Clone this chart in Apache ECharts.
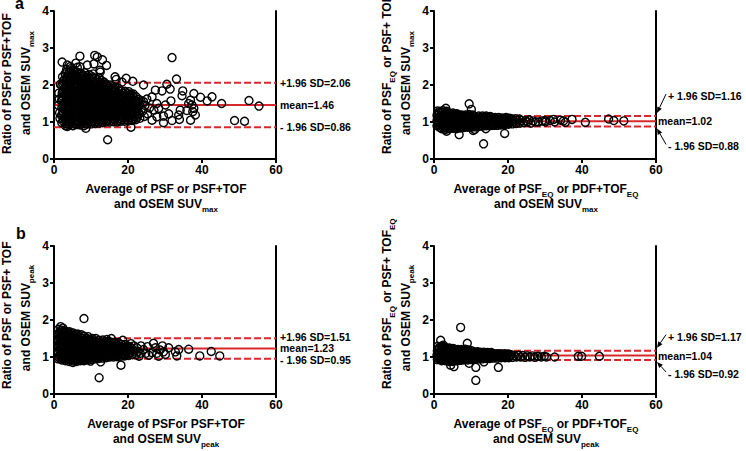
<!DOCTYPE html>
<html><head><meta charset="utf-8">
<script src="https://cdn.jsdelivr.net/npm/echarts/dist/echarts.min.js"></script>
<style>html,body{margin:0;padding:0;background:#fff}#c{width:746px;height:451px}</style>
</head><body><div id="c"></div>
<script>
// ---------------- DATA ----------------
const xTickValues = [0, 20, 40, 60];
const yTickValues = [0, 1, 2, 3, 4];

// limits of agreement: [upper, mean, lower]
const limMaxPSF  = [2.06, 1.46, 0.86];
const limMaxEQ   = [1.16, 1.02, 0.88];
const limPeakPSF = [1.51, 1.23, 0.95];
const limPeakEQ  = [1.17, 1.04, 0.92];

const labMaxPSF  = ['+1.96 SD=2.06', 'mean=1.46', '- 1.96 SD=0.86'];
const labMaxEQ   = ['+ 1.96 SD=1.16', 'mean=1.02', '- 1.96 SD=0.88'];
const labPeakPSF = ['+1.96 SD=1.51', 'mean=1.23', '- 1.96 SD=0.95'];
const labPeakEQ  = ['+ 1.96 SD=1.17', 'mean=1.04', '- 1.96 SD=0.92'];

const xTitles = [
  ['{b|Average of PSF or PSF+TOF}', '{b|and OSEM SUV}{s|max}'],
  ['{b|Average of PSF}{s|EQ}{b| or PDF+TOF}{s|EQ}', '{b|and OSEM SUV}{s|max}'],
  ['{b|Average of PSFor PSF+TOF}', '{b|and OSEM SUV}{s|peak}'],
  ['{b|Average of PSF}{s|EQ}{b| or PDF+TOF}{s|EQ}', '{b|and OSEM SUV}{s|peak}']
];
const yTitles = [
  ['{b|Ratio of PSFor PSF+TOF}', '{b|and OSEM SUV}{s|max}'],
  ['{b|Ratio of PSF}{s|EQ}{b| or PSF+ TOF}{s|EQ}', '{b|and OSEM SUV}{s|max}'],
  ['{b|Ratio of PSF or PSF+ TOF}', '{b|and OSEM SUV}{s|peak}'],
  ['{b|Ratio of PSF}{s|EQ}{b| or PSF+ TOF}{s|EQ}', '{b|and OSEM SUV}{s|peak}']
];
const panelLetters = ['a', 'b'];

// (a) SUVmax, PSF or PSF+TOF vs OSEM
const ptsMaxPSF = [
[1.2,1.45],[1.4,1.62],[1.5,1.25],[1.6,1.1],[1.3,1.78],[1.7,2.02],[2.2,2.62],[3.6,2.54],[5.9,2.59],[7.0,2.78],[8.6,0.83],[9.0,2.54],[10.8,2.57],[11.0,2.8],[11.7,2.76],[13.1,2.68],[14.2,2.53],[14.5,0.52],[19.5,2.18],[20.8,0.86],[21.3,2.1],[3.6,0.88],[12.4,2.4],[16.8,2.15],[18.4,2.08],[6.3,2.48],[4.4,2.5],[12.5,2.35],[16.5,2.22],[7.0,2.49],
[2.1,0.98],[2.6,1.08],[2.0,1.18],[2.5,1.28],[2.1,1.38],[2.6,1.48],[2.0,1.58],[2.5,1.68],[2.2,1.78],[2.6,1.88],[2.1,1.98],[2.5,2.1],[2.3,2.22],
[3.1,0.9],[3.6,1.0],[3.0,1.1],[3.5,1.2],[3.1,1.3],[3.6,1.4],[3.0,1.5],[3.5,1.6],[3.1,1.7],[3.6,1.8],[3.0,1.9],[3.5,2.0],[3.1,2.1],[3.6,2.2],[3.0,2.3],[3.4,2.42],
[4.1,0.92],[4.6,1.02],[4.0,1.12],[4.5,1.22],[4.1,1.32],[4.6,1.42],[4.0,1.52],[4.5,1.62],[4.1,1.72],[4.6,1.82],[4.0,1.92],[4.5,2.02],[4.1,2.12],[4.6,2.22],[4.0,2.32],[4.5,2.44],
[5.1,0.9],[5.6,1.0],[5.0,1.1],[5.5,1.2],[5.1,1.3],[5.6,1.4],[5.0,1.5],[5.5,1.6],[5.1,1.7],[5.6,1.8],[5.0,1.9],[5.5,2.0],[5.1,2.1],[5.6,2.2],[5.0,2.3],[5.4,2.4],
[6.1,0.93],[6.6,1.03],[6.0,1.13],[6.5,1.23],[6.1,1.33],[6.6,1.43],[6.0,1.53],[6.5,1.63],[6.1,1.73],[6.6,1.83],[6.0,1.93],[6.5,2.03],[6.1,2.13],[6.6,2.23],[6.2,2.35],
[7.1,0.92],[7.6,1.02],[7.0,1.12],[7.5,1.22],[7.1,1.32],[7.6,1.42],[7.0,1.52],[7.5,1.62],[7.1,1.72],[7.6,1.82],[7.0,1.92],[7.5,2.02],[7.1,2.12],[7.6,2.22],[7.2,2.32],
[8.1,0.9],[8.6,1.0],[8.0,1.1],[8.5,1.2],[8.1,1.3],[8.6,1.4],[8.0,1.5],[8.5,1.6],[8.1,1.7],[8.6,1.8],[8.0,1.9],[8.5,2.0],[8.1,2.1],[8.6,2.2],[8.3,2.33],
[9.1,0.95],[9.6,1.05],[9.0,1.15],[9.5,1.25],[9.1,1.35],[9.6,1.45],[9.0,1.55],[9.5,1.65],[9.1,1.75],[9.6,1.85],[9.0,1.95],[9.5,2.05],[9.1,2.15],[9.5,2.28],
[10.1,0.95],[10.6,1.05],[10.0,1.15],[10.5,1.25],[10.1,1.35],[10.6,1.45],[10.0,1.55],[10.5,1.65],[10.1,1.75],[10.6,1.85],[10.0,1.95],[10.5,2.05],[10.2,2.17],[10.6,2.3],
[11.1,0.96],[11.6,1.06],[11.0,1.16],[11.5,1.26],[11.1,1.36],[11.6,1.46],[11.0,1.56],[11.5,1.66],[11.1,1.76],[11.6,1.86],[11.0,1.96],[11.5,2.06],[11.2,2.18],
[12.1,0.97],[12.6,1.07],[12.0,1.17],[12.5,1.27],[12.1,1.37],[12.6,1.47],[12.0,1.57],[12.5,1.67],[12.1,1.77],[12.6,1.87],[12.0,1.97],[12.5,2.07],[12.2,2.2],
[13.1,0.98],[13.6,1.08],[13.0,1.18],[13.5,1.28],[13.1,1.38],[13.6,1.48],[13.0,1.58],[13.5,1.68],[13.1,1.78],[13.6,1.88],[13.0,1.98],[13.5,2.08],
[14.1,1.0],[14.6,1.1],[14.0,1.2],[14.5,1.3],[14.1,1.4],[14.6,1.5],[14.0,1.6],[14.5,1.7],[14.1,1.8],[14.6,1.9],[14.2,2.02],
[15.1,1.0],[15.6,1.1],[15.0,1.2],[15.5,1.3],[15.1,1.4],[15.6,1.5],[15.0,1.6],[15.5,1.7],[15.1,1.8],[15.6,1.9],[15.3,2.0],
[16.1,1.01],[16.6,1.11],[16.0,1.21],[16.5,1.31],[16.1,1.41],[16.6,1.51],[16.0,1.61],[16.5,1.71],[16.1,1.81],[16.5,1.93],
[17.1,1.0],[17.6,1.1],[17.0,1.2],[17.5,1.3],[17.1,1.4],[17.6,1.5],[17.0,1.6],[17.5,1.7],[17.1,1.8],[17.4,1.92],
[18.1,1.02],[18.6,1.12],[18.0,1.22],[18.5,1.32],[18.1,1.42],[18.6,1.52],[18.0,1.62],[18.5,1.72],[18.2,1.84],
[19.1,1.02],[19.6,1.12],[19.0,1.22],[19.5,1.32],[19.1,1.42],[19.6,1.52],[19.0,1.62],[19.5,1.72],[19.2,1.83],
[20.1,1.03],[20.6,1.13],[20.0,1.23],[20.5,1.33],[20.1,1.43],[20.6,1.53],[20.0,1.63],[20.5,1.73],[20.2,1.82],
[21.1,1.04],[21.6,1.14],[21.0,1.24],[21.5,1.34],[21.1,1.44],[21.6,1.54],[21.0,1.64],[21.4,1.76],
[22.1,1.06],[22.6,1.16],[22.0,1.26],[22.5,1.36],[22.1,1.46],[22.6,1.56],[22.2,1.68],
[23.2,1.1],[23.0,1.24],[23.6,1.34],[23.1,1.46],[23.5,1.58],
[24.4,1.15],[24.0,1.3],[24.6,1.45],[24.2,1.55],[24.2,2.0],
[25.3,1.22],[25.8,1.38],[25.1,1.62],[26.5,1.68],[26.5,1.05],[27.0,1.32],[27.4,1.86],[27.8,1.5],[27.8,1.14],[28.3,1.37],[29.2,1.84],[29.6,1.16],[29.6,0.98],[30.1,1.46],[30.5,2.02],[31.0,1.22],[31.4,1.89],[31.6,1.57],[31.9,1.04],[31.9,2.74],[33.1,2.16],[33.7,1.19],[33.9,1.07],[34.1,1.32],[34.6,1.71],[34.8,1.84],[35.9,1.31],[36.4,1.5],[36.9,1.59],[36.9,1.05],[37.3,1.46],[37.5,1.28],[37.8,1.37],[37.8,1.77],[38.2,1.19],[39.6,1.67],[41.4,1.57],[42.7,1.68],[45.3,1.5],[48.8,1.04],[51.5,1.02],[52.7,1.58],[55.4,1.43]
];
const coreMaxPSF = [
[2.4,1.03],[2.9,1.13],[2.3,1.23],[2.8,1.33],[2.4,1.43],[2.9,1.53],[2.3,1.63],[2.8,1.73],[2.4,1.83],[2.9,1.93],[2.4,2.03],[2.8,2.15],
[3.4,0.95],[3.9,1.05],[3.3,1.15],[3.8,1.25],[3.4,1.35],[3.9,1.45],[3.3,1.55],[3.8,1.65],[3.4,1.75],[3.9,1.85],[3.3,1.95],[3.8,2.05],[3.4,2.15],[3.9,2.25],[3.3,2.35],
[4.4,0.97],[4.9,1.07],[4.3,1.17],[4.8,1.27],[4.4,1.37],[4.9,1.47],[4.3,1.57],[4.8,1.67],[4.4,1.77],[4.9,1.87],[4.3,1.97],[4.8,2.07],[4.4,2.17],[4.9,2.27],[4.3,2.38],
[5.4,0.95],[5.9,1.05],[5.3,1.15],[5.8,1.25],[5.4,1.35],[5.9,1.45],[5.3,1.55],[5.8,1.65],[5.4,1.75],[5.9,1.85],[5.3,1.95],[5.8,2.05],[5.4,2.15],[5.9,2.25],[5.3,2.35],
[6.4,0.98],[6.9,1.08],[6.3,1.18],[6.8,1.28],[6.4,1.38],[6.9,1.48],[6.3,1.58],[6.8,1.68],[6.4,1.78],[6.9,1.88],[6.3,1.98],[6.8,2.08],[6.4,2.18],[6.9,2.28],
[7.4,0.97],[7.9,1.07],[7.3,1.17],[7.8,1.27],[7.4,1.37],[7.9,1.47],[7.3,1.57],[7.8,1.67],[7.4,1.77],[7.9,1.87],[7.3,1.97],[7.8,2.07],[7.4,2.17],[7.9,2.27],
[8.4,0.95],[8.9,1.05],[8.3,1.15],[8.8,1.25],[8.4,1.35],[8.9,1.45],[8.3,1.55],[8.8,1.65],[8.4,1.75],[8.9,1.85],[8.3,1.95],[8.8,2.05],[8.4,2.15],[8.9,2.25],
[9.4,1.0],[9.9,1.1],[9.3,1.2],[9.8,1.3],[9.4,1.4],[9.9,1.5],[9.3,1.6],[9.8,1.7],[9.4,1.8],[9.9,1.9],[9.3,2.0],[9.8,2.1],[9.4,2.2],
[10.4,1.0],[10.9,1.1],[10.3,1.2],[10.8,1.3],[10.4,1.4],[10.9,1.5],[10.3,1.6],[10.8,1.7],[10.4,1.8],[10.9,1.9],[10.3,2.0],[10.8,2.1],[10.4,2.22],
[11.4,1.01],[11.9,1.11],[11.3,1.21],[11.8,1.31],[11.4,1.41],[11.9,1.51],[11.3,1.61],[11.8,1.71],[11.4,1.81],[11.9,1.91],[11.3,2.01],[11.8,2.11],
[12.4,1.02],[12.9,1.12],[12.3,1.22],[12.8,1.32],[12.4,1.42],[12.9,1.52],[12.3,1.62],[12.8,1.72],[12.4,1.82],[12.9,1.92],[12.3,2.02],[12.8,2.12],
[13.4,1.03],[13.9,1.13],[13.3,1.23],[13.8,1.33],[13.4,1.43],[13.9,1.53],[13.3,1.63],[13.8,1.73],[13.4,1.83],[13.9,1.93],[13.3,2.03],
[14.4,1.05],[14.9,1.15],[14.3,1.25],[14.8,1.35],[14.4,1.45],[14.9,1.55],[14.3,1.65],[14.8,1.75],[14.4,1.85],[14.9,1.95],
[15.4,1.05],[15.9,1.15],[15.3,1.25],[15.8,1.35],[15.4,1.45],[15.9,1.55],[15.3,1.65],[15.8,1.75],[15.4,1.85],[15.9,1.95],
[16.4,1.06],[16.9,1.16],[16.3,1.26],[16.8,1.36],[16.4,1.46],[16.9,1.56],[16.3,1.66],[16.8,1.76],[16.4,1.86],
[17.4,1.05],[17.9,1.15],[17.3,1.25],[17.8,1.35],[17.4,1.45],[17.9,1.55],[17.3,1.65],[17.8,1.75],[17.4,1.85],
[18.4,1.07],[18.9,1.17],[18.3,1.27],[18.8,1.37],[18.4,1.47],[18.9,1.57],[18.3,1.67],[18.8,1.77],
[19.4,1.07],[19.9,1.17],[19.3,1.27],[19.8,1.37],[19.4,1.47],[19.9,1.57],[19.3,1.67],[19.8,1.77],
[20.4,1.08],[20.9,1.18],[20.3,1.28],[20.8,1.38],[20.4,1.48],[20.9,1.58],[20.3,1.68],[20.8,1.76],
[21.4,1.09],[21.9,1.19],[21.3,1.29],[21.8,1.39],[21.4,1.49],[21.9,1.59],[21.3,1.69],
[22.4,1.11],[22.9,1.21],[22.3,1.31],[22.8,1.41],[22.4,1.51],[22.9,1.61]
];

// (a, right) SUVmax, PSF_EQ or PSF+TOF_EQ vs OSEM
const ptsMaxEQ = [
[0.8,0.9],[1.2,0.97],[0.8,1.04],[1.2,1.11],[0.8,1.18],[1.2,1.25],[1.0,1.3],[1.6,0.85],
[2.1,0.82],[2.5,0.89],[2.0,0.96],[2.5,1.03],[2.1,1.1],[2.5,1.17],[2.0,1.24],[2.4,1.31],
[3.1,0.8],[3.5,0.87],[3.0,0.94],[3.5,1.01],[3.1,1.08],[3.5,1.15],[3.0,1.22],[3.4,1.29],[3.2,1.37],[3.4,0.75],
[4.1,0.82],[4.5,0.89],[4.0,0.96],[4.5,1.03],[4.1,1.1],[4.5,1.17],[4.0,1.24],
[5.1,0.83],[5.5,0.9],[5.0,0.97],[5.5,1.04],[5.1,1.11],[5.5,1.18],[5.1,1.24],
[6.1,0.82],[6.5,0.89],[6.0,0.96],[6.5,1.03],[6.1,1.1],[6.5,1.17],[6.2,1.22],[6.8,0.66],
[7.1,0.84],[7.5,0.91],[7.0,0.98],[7.5,1.05],[7.1,1.12],[7.5,1.19],
[8.1,0.85],[8.5,0.92],[8.0,0.99],[8.5,1.06],[8.1,1.13],[8.5,1.19],
[9.1,0.86],[9.5,0.93],[9.0,1.0],[9.5,1.07],[9.1,1.14],[9.5,1.2],[9.5,1.49],[10.1,1.34],
[10.1,0.86],[10.5,0.93],[10.0,1.0],[10.5,1.07],[10.1,1.14],[10.5,1.19],[10.6,0.77],
[11.1,0.87],[11.5,0.94],[11.0,1.01],[11.5,1.08],[11.1,1.15],[11.0,0.8],
[12.1,0.88],[12.5,0.95],[12.0,1.02],[12.5,1.09],[12.1,1.16],
[13.1,0.89],[13.5,0.96],[13.0,1.03],[13.5,1.1],[13.1,1.16],[13.4,0.41],
[14.1,0.9],[14.5,0.97],[14.0,1.04],[14.5,1.11],[14.1,1.16],[14.0,0.82],
[15.1,0.9],[15.5,0.97],[15.0,1.04],[15.5,1.11],[15.2,1.15],
[16.1,0.91],[16.5,0.98],[16.0,1.05],[16.5,1.12],
[17.1,0.91],[17.5,0.98],[17.0,1.05],[17.5,1.12],
[18.1,0.92],[18.5,0.99],[18.0,1.06],[18.5,1.11],[19.1,0.69],
[19.1,0.93],[19.5,1.0],[19.0,1.07],[19.5,1.12],
[20.1,0.94],[20.5,1.0],[20.0,1.07],[20.5,1.1],
[21.2,0.95],[21.6,1.02],[21.1,1.08],
[22.2,0.96],[22.6,1.03],[22.1,1.09],
[23.2,0.97],[23.6,1.04],[23.1,1.08],
[24.3,0.98],[24.8,1.04],
[25.2,1.0],[25.7,1.06],[26.2,0.97],
[26.8,1.03],[27.5,1.0],[28.2,1.0],[29.2,1.03],[30.0,1.04],[30.1,1.0],[31.4,1.04],[32.3,1.07],[32.6,1.0],[34.2,1.05],[35.0,1.03],[35.5,0.99],[37.3,1.07],[40.9,0.99],[47.2,1.08],[48.6,1.04],[51.3,1.03]
];
const coreMaxEQ = [
[1.1,0.93],[1.5,1.0],[1.0,1.07],[1.5,1.14],[1.1,1.21],[1.5,1.28],
[2.4,0.85],[2.8,0.92],[2.3,0.99],[2.8,1.06],[2.4,1.13],[2.8,1.2],[2.3,1.27],
[3.4,0.83],[3.8,0.9],[3.3,0.97],[3.8,1.04],[3.4,1.11],[3.8,1.18],[3.3,1.25],
[4.4,0.85],[4.8,0.92],[4.3,0.99],[4.8,1.06],[4.4,1.13],[4.8,1.2],
[5.4,0.86],[5.8,0.93],[5.3,1.0],[5.8,1.07],[5.4,1.14],[5.8,1.21],
[6.4,0.85],[6.8,0.92],[6.3,0.99],[6.8,1.06],[6.4,1.13],[6.8,1.19],
[7.4,0.87],[7.8,0.94],[7.3,1.01],[7.8,1.08],[7.4,1.15],
[8.4,0.88],[8.8,0.95],[8.3,1.02],[8.8,1.09],[8.4,1.16],
[9.4,0.89],[9.8,0.96],[9.3,1.03],[9.8,1.1],[9.4,1.17],
[10.4,0.89],[10.8,0.96],[10.3,1.03],[10.8,1.1],[10.4,1.16],
[11.4,0.9],[11.8,0.97],[11.3,1.04],[11.8,1.11],
[12.4,0.91],[12.8,0.98],[12.3,1.05],[12.8,1.12],
[13.4,0.92],[13.8,0.99],[13.3,1.06],[13.8,1.13],
[14.4,0.93],[14.8,1.0],[14.3,1.07],[14.8,1.13],
[15.4,0.93],[15.8,1.0],[15.3,1.07],[15.8,1.12],
[16.4,0.94],[16.8,1.01],[16.3,1.08],[17.4,0.94],[17.8,1.01],[17.3,1.08],[18.4,0.95],[18.8,1.02],[18.3,1.08],[19.4,0.96],[19.8,1.03],[19.3,1.09],[20.4,0.97],[20.8,1.03]
];

// (b) SUVpeak, PSF or PSF+TOF vs OSEM
const ptsPeakPSF = [
[1.1,0.95],[1.5,1.03],[1.0,1.11],[1.5,1.19],[1.1,1.27],[1.5,1.35],[1.0,1.43],[1.5,1.51],[1.1,1.59],[1.5,1.67],[1.2,1.75],[1.8,1.82],
[2.1,0.92],[2.5,1.0],[2.0,1.08],[2.5,1.16],[2.1,1.24],[2.5,1.32],[2.0,1.4],[2.5,1.48],[2.1,1.56],[2.5,1.64],[2.1,1.72],[2.4,1.78],
[3.1,0.9],[3.5,0.98],[3.0,1.06],[3.5,1.14],[3.1,1.22],[3.5,1.3],[3.0,1.38],[3.5,1.46],[3.1,1.54],[3.5,1.62],[3.1,1.7],
[4.1,0.88],[4.5,0.96],[4.0,1.04],[4.5,1.12],[4.1,1.2],[4.5,1.28],[4.0,1.36],[4.5,1.44],[4.1,1.52],[4.5,1.6],[4.2,1.68],
[5.1,0.85],[5.5,0.93],[5.0,1.01],[5.5,1.09],[5.1,1.17],[5.5,1.25],[5.0,1.33],[5.5,1.41],[5.1,1.49],[5.5,1.57],[5.2,1.65],
[6.1,0.88],[6.5,0.96],[6.0,1.04],[6.5,1.12],[6.1,1.2],[6.5,1.28],[6.0,1.36],[6.5,1.44],[6.1,1.52],[6.4,1.62],
[7.1,0.9],[7.5,0.98],[7.0,1.06],[7.5,1.14],[7.1,1.22],[7.5,1.3],[7.0,1.38],[7.5,1.46],[7.1,1.54],[7.4,1.6],
[8.1,0.9],[8.5,0.98],[8.0,1.06],[8.5,1.14],[8.1,1.22],[8.5,1.3],[8.0,1.38],[8.5,1.46],[8.2,1.56],[8.1,2.04],
[9.1,0.92],[9.5,1.0],[9.0,1.08],[9.5,1.16],[9.1,1.24],[9.5,1.32],[9.0,1.4],[9.5,1.48],[9.2,1.55],[9.9,0.89],
[10.1,0.93],[10.5,1.01],[10.0,1.09],[10.5,1.17],[10.1,1.25],[10.5,1.33],[10.0,1.41],[10.4,1.5],
[11.1,0.95],[11.5,1.03],[11.0,1.11],[11.5,1.19],[11.1,1.27],[11.5,1.35],[11.0,1.43],[11.3,1.5],
[12.1,0.96],[12.5,1.04],[12.0,1.12],[12.5,1.2],[12.1,1.28],[12.5,1.36],[12.2,1.45],[12.2,0.44],[12.6,0.87],
[13.1,0.97],[13.5,1.05],[13.0,1.13],[13.5,1.21],[13.1,1.29],[13.5,1.37],[13.2,1.46],
[14.1,0.98],[14.5,1.06],[14.0,1.14],[14.5,1.22],[14.1,1.3],[14.5,1.38],[14.3,1.47],
[15.1,1.0],[15.5,1.08],[15.0,1.16],[15.5,1.24],[15.1,1.32],[15.5,1.4],[15.5,1.5],
[16.1,1.0],[16.5,1.08],[16.0,1.16],[16.5,1.24],[16.1,1.32],[16.4,1.4],
[17.1,1.01],[17.5,1.09],[17.0,1.17],[17.5,1.25],[17.1,1.33],[17.4,1.39],
[18.1,1.02],[18.5,1.1],[18.0,1.18],[18.5,1.26],[18.2,1.34],[18.1,0.78],[18.6,1.45],
[19.1,1.03],[19.5,1.11],[19.0,1.19],[19.5,1.27],[19.2,1.34],
[20.1,1.04],[20.6,1.12],[20.0,1.2],[20.5,1.28],[20.8,1.36],
[21.2,1.06],[21.7,1.14],[21.1,1.22],[21.6,1.3],
[22.2,1.07],[22.7,1.15],[22.4,1.25],[23.3,1.1],[23.5,1.3],[23.0,1.02],
[24.2,1.2],[24.8,1.1],[25.3,1.28],[25.6,1.05],[26.5,1.12],[26.9,1.37],[27.4,1.25],[27.8,1.1],[28.3,1.02],[28.7,1.19],[29.3,1.3],[29.6,1.14],[30.1,1.07],[31.0,1.25],[32.8,1.14],[33.2,1.03],[33.7,1.2],[36.4,1.21],[39.4,1.03],[42.5,1.15],[44.8,1.03]
];
const corePeakPSF = [
[1.3,0.99],[1.7,1.07],[1.2,1.15],[1.7,1.23],[1.3,1.31],[1.7,1.39],[1.2,1.47],[1.7,1.55],[1.3,1.63],[1.7,1.71],
[2.3,0.96],[2.8,1.04],[2.2,1.12],[2.8,1.2],[2.3,1.28],[2.8,1.36],[2.2,1.44],[2.8,1.52],[2.3,1.6],[2.8,1.68],
[3.3,0.94],[3.8,1.02],[3.2,1.1],[3.8,1.18],[3.3,1.26],[3.8,1.34],[3.2,1.42],[3.8,1.5],[3.3,1.58],[3.8,1.66],
[4.3,0.92],[4.8,1.0],[4.2,1.08],[4.8,1.16],[4.3,1.24],[4.8,1.32],[4.2,1.4],[4.8,1.48],[4.3,1.56],[4.8,1.64],
[5.3,0.89],[5.8,0.97],[5.2,1.05],[5.8,1.13],[5.3,1.21],[5.8,1.29],[5.2,1.37],[5.8,1.45],[5.3,1.53],[5.8,1.61],
[6.3,0.92],[6.8,1.0],[6.2,1.08],[6.8,1.16],[6.3,1.24],[6.8,1.32],[6.2,1.4],[6.8,1.48],[6.3,1.56],
[7.3,0.94],[7.8,1.02],[7.2,1.1],[7.8,1.18],[7.3,1.26],[7.8,1.34],[7.2,1.42],[7.8,1.5],
[8.3,0.94],[8.8,1.02],[8.2,1.1],[8.8,1.18],[8.3,1.26],[8.8,1.34],[8.2,1.42],[8.8,1.5],
[9.3,0.96],[9.8,1.04],[9.2,1.12],[9.8,1.2],[9.3,1.28],[9.8,1.36],[9.2,1.44],
[10.3,0.97],[10.8,1.05],[10.2,1.13],[10.8,1.21],[10.3,1.29],[10.8,1.37],[10.2,1.45],
[11.3,0.99],[11.8,1.07],[11.2,1.15],[11.8,1.23],[11.3,1.31],[11.8,1.39],
[12.3,1.0],[12.8,1.08],[12.2,1.16],[12.8,1.24],[12.3,1.32],[12.8,1.4],
[13.3,1.01],[13.8,1.09],[13.2,1.17],[13.8,1.25],[13.3,1.33],[13.8,1.41],
[14.3,1.02],[14.8,1.1],[14.2,1.18],[14.8,1.26],[14.3,1.34],[14.8,1.42],
[15.3,1.04],[15.8,1.12],[15.2,1.2],[15.8,1.28],[15.3,1.36],
[16.3,1.04],[16.8,1.12],[16.2,1.2],[16.8,1.28],[16.3,1.36],
[17.3,1.05],[17.8,1.13],[17.2,1.21],[17.8,1.29],
[18.3,1.06],[18.8,1.14],[18.2,1.22],[18.8,1.3],
[19.3,1.07],[19.8,1.15],[19.2,1.23],[19.8,1.3],
[20.3,1.08],[20.8,1.16],[20.2,1.24]
];

// (b, right) SUVpeak, PSF_EQ or PSF+TOF_EQ vs OSEM
const ptsPeakEQ = [
[0.9,0.93],[1.3,0.99],[0.8,1.05],[1.3,1.11],[0.9,1.17],[1.3,1.23],[1.0,1.29],[1.8,1.45],
[2.1,0.9],[2.5,0.96],[2.0,1.02],[2.5,1.08],[2.1,1.14],[2.5,1.2],[2.1,1.26],[2.5,1.32],
[3.1,0.9],[3.5,0.96],[3.0,1.02],[3.5,1.08],[3.1,1.14],[3.5,1.2],[3.1,1.26],
[4.1,0.88],[4.5,0.94],[4.0,1.0],[4.5,1.06],[4.1,1.12],[4.5,1.18],[4.2,1.24],[4.5,0.78],
[5.1,0.88],[5.5,0.94],[5.0,1.0],[5.5,1.06],[5.1,1.12],[5.5,1.18],[5.2,1.23],[5.4,0.74],
[6.1,0.9],[6.5,0.96],[6.0,1.02],[6.5,1.08],[6.1,1.14],[6.5,1.2],
[7.1,0.91],[7.5,0.97],[7.0,1.03],[7.5,1.09],[7.1,1.15],[7.5,1.2],[7.2,1.8],
[8.1,0.92],[8.5,0.98],[8.0,1.04],[8.5,1.1],[8.1,1.16],[8.5,1.21],
[9.1,0.92],[9.5,0.98],[9.0,1.04],[9.5,1.1],[9.1,1.16],[9.0,1.37],[9.5,0.83],
[10.1,0.93],[10.5,0.99],[10.0,1.05],[10.5,1.11],[10.2,1.17],
[11.1,0.94],[11.5,1.0],[11.0,1.06],[11.5,1.12],[11.3,0.72],[11.3,0.37],
[12.1,0.95],[12.5,1.01],[12.0,1.07],[12.5,1.13],
[13.1,0.95],[13.5,1.01],[13.0,1.07],[13.5,1.13],[13.5,0.87],
[14.1,0.96],[14.5,1.02],[14.0,1.08],[14.5,1.12],
[15.1,0.96],[15.5,1.02],[15.0,1.08],[15.5,1.12],
[16.1,0.97],[16.5,1.03],[16.0,1.09],
[17.1,0.97],[17.5,1.03],[17.0,1.09],[17.4,0.72],
[18.1,0.98],[18.5,1.04],[18.0,1.09],
[19.2,0.98],[19.6,1.04],[19.1,1.09],
[20.2,0.98],[20.6,1.04],[20.1,1.08],
[21.2,0.99],[21.7,1.04],[22.3,1.0],[22.8,1.05],
[23.4,1.0],[24.0,1.04],[24.6,0.99],[25.2,1.03],[25.9,1.0],[26.6,1.03],[27.3,0.99],[28.1,1.02],[29.0,1.0],[29.8,1.02],[30.4,1.0],[32.6,1.0],[39.0,1.02],[39.9,1.02],[44.7,1.02]
];
const corePeakEQ = [
[1.1,0.96],[1.5,1.02],[1.0,1.08],[1.5,1.14],[1.1,1.2],[1.5,1.26],
[2.3,0.93],[2.8,0.99],[2.2,1.05],[2.8,1.11],[2.3,1.17],[2.8,1.23],[2.3,1.29],
[3.3,0.93],[3.8,0.99],[3.2,1.05],[3.8,1.11],[3.3,1.17],[3.8,1.23],
[4.3,0.91],[4.8,0.97],[4.2,1.03],[4.8,1.09],[4.3,1.15],[4.8,1.21],
[5.3,0.91],[5.8,0.97],[5.2,1.03],[5.8,1.09],[5.3,1.15],[5.8,1.2],
[6.3,0.93],[6.8,0.99],[6.2,1.05],[6.8,1.11],[6.3,1.17],
[7.3,0.94],[7.8,1.0],[7.2,1.06],[7.8,1.12],[7.3,1.18],
[8.3,0.95],[8.8,1.01],[8.2,1.07],[8.8,1.13],[8.3,1.19],
[9.3,0.95],[9.8,1.01],[9.2,1.07],[9.8,1.13],[9.3,1.19],
[10.3,0.96],[10.8,1.02],[10.2,1.08],[10.8,1.14],
[11.3,0.97],[11.8,1.03],[11.2,1.09],[11.8,1.14],
[12.3,0.98],[12.8,1.04],[12.2,1.1],[13.3,0.98],[13.8,1.04],[13.2,1.1],[14.3,0.99],[14.8,1.05],[14.2,1.1],[15.3,0.99],[15.8,1.05],[15.2,1.1],
[16.3,1.0],[16.8,1.06],[17.3,1.0],[17.8,1.06],[18.3,1.01],[18.8,1.06],[19.3,1.01],[19.8,1.06],[20.4,1.01],[20.9,1.06]
];

// ---------------- CHART ----------------
const FONT = "'Liberation Sans', Arial, Helvetica, sans-serif";
const RED = '#d8282c';
const panels = [
  {pts: ptsMaxPSF.concat(coreMaxPSF),   lim: limMaxPSF,  lab: labMaxPSF,  arrows: false},
  {pts: ptsMaxEQ.concat(coreMaxEQ),     lim: limMaxEQ,   lab: labMaxEQ,   arrows: true},
  {pts: ptsPeakPSF.concat(corePeakPSF), lim: limPeakPSF, lab: labPeakPSF, arrows: false},
  {pts: ptsPeakEQ.concat(corePeakEQ),   lim: limPeakEQ,  lab: labPeakEQ,  arrows: true}
];
const grids = [
  {left: 54,  top: 11,  width: 222, height: 148},
  {left: 434, top: 11,  width: 222, height: 148},
  {left: 54,  top: 246, width: 222, height: 148},
  {left: 434, top: 246, width: 222, height: 148}
];

const chart = echarts.init(document.getElementById('c'), null, {renderer: 'svg'});
const axisLineStyle = {color: '#000', width: 2};
const tickLabel = {color: '#000', fontWeight: 'bold', fontSize: 12, fontFamily: FONT};

const option = {
  animation: false,
  backgroundColor: '#fff',
  grid: grids.map(g => Object.assign({outerBoundsMode: 'none', containLabel: false}, g)),
  xAxis: grids.map((g, i) => ({
    gridIndex: i, type: 'value', min: xTickValues[0], max: xTickValues[xTickValues.length - 1], interval: xTickValues[1] - xTickValues[0],
    axisLine: {show: true, onZero: false, lineStyle: axisLineStyle},
    axisTick: {show: true, length: 4, lineStyle: {color: '#000', width: 2}},
    axisLabel: Object.assign({margin: 5}, tickLabel),
    splitLine: {show: false}
  })),
  yAxis: [],
  series: []
};
grids.forEach((g, i) => {
  option.yAxis.push({
    gridIndex: i, type: 'value', min: yTickValues[0], max: yTickValues[yTickValues.length - 1], interval: 1, position: 'left',
    axisLine: {show: true, onZero: false, lineStyle: axisLineStyle},
    axisTick: {show: true, length: 4, lineStyle: {color: '#000', width: 2}},
    axisLabel: Object.assign({margin: 5}, tickLabel),
    splitLine: {show: false}
  });
  option.yAxis.push({
    gridIndex: i, type: 'value', min: yTickValues[0], max: yTickValues[yTickValues.length - 1], position: 'right',
    axisLine: {show: true, onZero: false, lineStyle: axisLineStyle},
    axisTick: {show: false}, axisLabel: {show: false}, splitLine: {show: false}
  });
});
panels.forEach((p, i) => {
  const x0 = xTickValues[0], x1 = xTickValues[xTickValues.length - 1];
  p.lim.forEach((v, k) => {
    option.series.push({
      type: 'line', xAxisIndex: i, yAxisIndex: 2 * i, silent: true, z: 1,
      data: [[x0, v], [x1, v]], showSymbol: false, symbol: 'none',
      lineStyle: {color: RED, width: 2, type: k === 1 ? 'solid' : [7, 3]}
    });
  });
  option.series.push({
    type: 'scatter', xAxisIndex: i, yAxisIndex: 2 * i, z: 3, silent: true,
    data: p.pts, symbol: 'circle', symbolSize: 8,
    itemStyle: {color: 'rgba(0,0,0,0)', borderColor: '#000', borderWidth: 1.4, opacity: 1}
  });
});
chart.setOption(option);

// ---- annotations (positions from the axes) ----
const RICH = {
  b: {fontSize: 12, fontWeight: 'bold', fontFamily: FONT, lineHeight: 18, fill: '#000'},
  s: {fontSize: 8, fontWeight: 'bold', fontFamily: FONT, lineHeight: 8, verticalAlign: 'bottom', fill: '#000'}
};
function rtext(x, y, text, align, rot) {
  return {type: 'text', x: x, y: y, rotation: rot || 0, silent: true,
    style: {text: text, rich: RICH, align: align, verticalAlign: 'middle', fill: '#000'}};
}
function ptext(x, y, text, align, size, va) {
  return {type: 'text', x: x, y: y, silent: true,
    style: {text: text, fill: '#000', align: align, verticalAlign: va || 'middle',
      fontSize: size, fontWeight: 'bold', fontFamily: FONT}};
}
function arrow(x1, y1, x2, y2) {
  const dx = x2 - x1, dy = y2 - y1, L = Math.hypot(dx, dy), ux = dx / L, uy = dy / L;
  const hl = 6, hw = 2.5, bx = x2 - ux * hl, by = y2 - uy * hl;
  return [
    {type: 'line', silent: true, shape: {x1: x1, y1: y1, x2: bx, y2: by}, style: {stroke: '#000', lineWidth: 1}},
    {type: 'polygon', silent: true, shape: {points: [[x2, y2], [bx - uy * hw, by + ux * hw], [bx + uy * hw, by - ux * hw]]}, style: {fill: '#000'}}
  ];
}
const gfx = [];
panels.forEach((p, i) => {
  const g = grids[i];
  const px = v => chart.convertToPixel({xAxisIndex: i, yAxisIndex: 2 * i}, [xTickValues[xTickValues.length - 1], v]);
  const right = px(0)[0];
  const yu = px(p.lim[0])[1], ym = px(p.lim[1])[1], yl = px(p.lim[2])[1];
  if (!p.arrows) {
    gfx.push(ptext(right + 4, yu - (i === 2 ? 1.5 : 0), p.lab[0], 'left', 10.5));
    gfx.push(ptext(right + 4, ym - (i === 2 ? 0.5 : 0), p.lab[1], 'left', 10.5));
    gfx.push(ptext(right + 4, yl + (i === 2 ? 1 : 0), p.lab[2], 'left', 10.5));
  } else {
    const du = i === 1 ? 20 : 14, dl = i === 1 ? 20 : 14;
    gfx.push(ptext(right + 12, yu - du, p.lab[0], 'left', 10.5));
    gfx.push(ptext(right + 2, ym, p.lab[1], 'left', 10.5));
    gfx.push(ptext(right + 12, yl + dl, p.lab[2], 'left', 10.5));
    gfx.push(...arrow(right + 10, yu - du - 2, right + 1, yu - 3));
    gfx.push(...arrow(right + 10, yl + dl - 2, right + 1, yl + 2));
  }
  const cx = g.left + g.width / 2 + 1, bottom = g.top + g.height;
  gfx.push(rtext(cx, bottom + 30, xTitles[i][0], 'center'));
  gfx.push(rtext(cx, bottom + 45, xTitles[i][1], 'center'));
  gfx.push(rtext(g.left - 47, bottom - 5, yTitles[i][0], 'left', Math.PI / 2));
  gfx.push(rtext(g.left - 28, g.top + g.height / 2 - 2, yTitles[i][1], 'center', Math.PI / 2));
});
gfx.push(ptext(15, 11.5, panelLetters[0], 'left', 16, 'bottom'));
gfx.push(ptext(16, 241.5, panelLetters[1], 'left', 16, 'bottom'));
chart.setOption({graphic: {elements: gfx}});
</script>
</body></html>
